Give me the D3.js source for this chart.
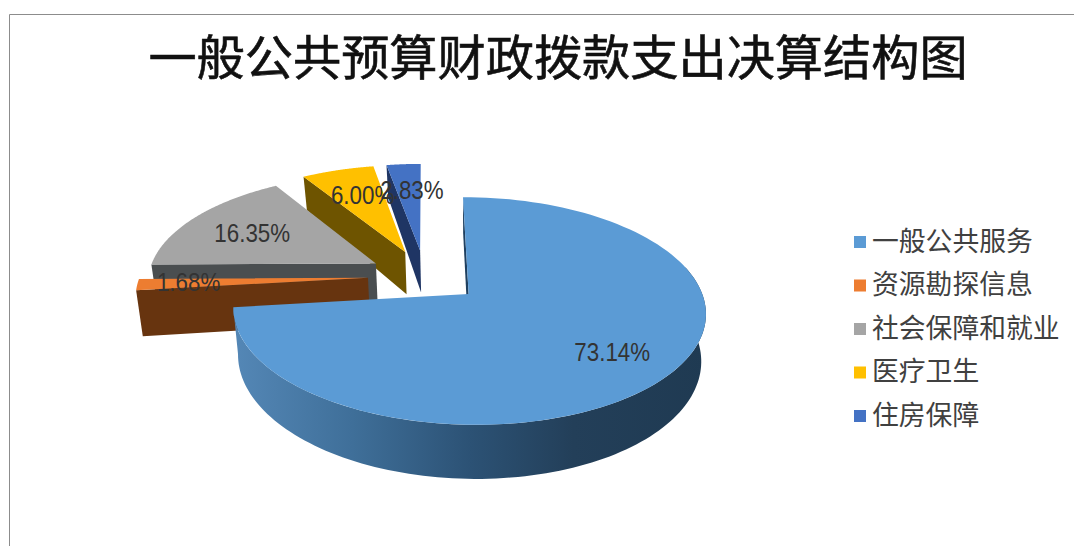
<!DOCTYPE html>
<html>
<head>
<meta charset="utf-8">
<script src="https://cdn.jsdelivr.net/npm/d3@7"></script>
<style>
  html, body { margin: 0; padding: 0; background: #fff; }
  svg { display: block; }
  text { font-family: "Noto Sans CJK SC", sans-serif; }
</style>
</head>
<body>
<svg id="chart" width="1074" height="546"></svg>
<script>
const chartTitle = "一般公共预算财政拨款支出决算结构图";
const categories = ["一般公共服务", "资源勘探信息", "社会保障和就业", "医疗卫生", "住房保障"];
const shares = [73.14, 1.68, 16.35, 6.00, 2.83];
const topColors = ["#5b9bd5", "#ed7d31", "#a5a5a5", "#ffc000", "#4472c4"];
const sideColors = ["#1f4060", "#67340f", "#4a4e50", "#6e5400", "#1f3564"];

const svg = d3.select("#chart");
const defs = svg.append("defs");

// frame of the pasted chart: only top and left survive the crop
svg.append("path")
    .attr("d", "M9.5,546V14.5H1074")
    .attr("fill", "none")
    .attr("stroke", "#8c8c8c")
    .attr("stroke-width", 1);

svg.append("text")
    .attr("x", 558)
    .attr("y", 54)
    .attr("text-anchor", "middle")
    .attr("dominant-baseline", "central")
    .attr("font-size", 48.2)
    .attr("font-weight", 400)
    .attr("stroke", "#111")
    .attr("stroke-width", 0.6)
    .attr("fill", "#111")
    .text(chartTitle);

// pie layout, clockwise from 12 o'clock, in data order
const slices = d3.pie().sort(null).value(d => d)(shares);

// ground plane -> screen, simple perspective
const cx = 425, cy = 276;
const radiusX = 228, radiusY = 106, depth = 0.145;
const explode = 0.25, thickness = 45;
const vanishX = 470, taper = 0.02;

const project = (x, y, drop = 0) => {
    const w = 1 + depth * y;
    const dropW = y > 0 ? w * w : w;
    const sx = cx + radiusX * x / w;
    // the underside is seen a little narrower than the top face
    return [
        sx - (sx - vanishX) * taper * drop / thickness,
        cy - radiusY * y / w + drop / dropW
    ];
};

const mid = d => (d.startAngle + d.endAngle) / 2;

const groundPoint = (d, angle, r) => [
    explode * Math.sin(mid(d)) + r * Math.sin(angle),
    explode * Math.cos(mid(d)) + r * Math.cos(angle)
];

const screenPoint = (d, angle, r, drop = 0) => {
    const g = groundPoint(d, angle, r);
    return project(g[0], g[1], drop);
};

const arcPoints = (d, a0, a1, drop = 0) =>
    d3.range(0, 1.0001, 1 / 120).map(t => screenPoint(d, a0 + (a1 - a0) * t, 1, drop));

const line = d3.line();

const wallGradient = defs.append("linearGradient")
    .attr("id", "wall")
    .attr("gradientUnits", "userSpaceOnUse")
    .attr("x1", 235).attr("x2", 705).attr("y1", 0).attr("y2", 0);
[[0, "#5487b6"], [0.25, "#3f6f99"], [0.5, "#2c5275"], [0.72, "#233f59"], [1, "#1f3a52"]]
    .forEach(s => wallGradient.append("stop").attr("offset", s[0]).attr("stop-color", s[1]));

const pieLayer = svg.append("g");

// back slices first, the big one last
const drawOrder = [4, 3, 2, 1, 0];
drawOrder.forEach(i => {
    const d = slices[i];
    const g = pieLayer.append("g").attr("class", "slice");
    const apex = screenPoint(d, 0, 0);
    const apexLow = screenPoint(d, 0, 0, thickness);
    const a = d.startAngle;

    // the cut face on the starting edge looks at the viewer
    g.append("path")
        .attr("d", line([apex, screenPoint(d, a, 1), screenPoint(d, a, 1, thickness), apexLow]) + "Z")
        .attr("fill", sideColors[i]);

    if (i === 0) {
        // outer wall, only the part that faces the viewer
        const wallA0 = Math.PI * 0.42, wallA1 = d.endAngle;
        const upper = arcPoints(d, wallA0, wallA1);
        const lower = arcPoints(d, wallA0, wallA1, thickness).reverse();
        g.append("path")
            .attr("d", line(upper.concat(lower)) + "Z")
            .attr("fill", "url(#wall)");
    }

    g.append("path")
        .attr("d", line([apex].concat(arcPoints(d, d.startAngle, d.endAngle))) + "Z")
        .attr("fill", topColors[i]);
});

// data labels, squeezed sideways like the narrow font of the original
const fmt = d3.format(".2f");
const labelLayer = svg.append("g");
slices.forEach((d, i) => {
    const p = screenPoint(d, mid(d), 0.71);
    const dx = i === 1 ? -16 : i === 4 ? 4 : 7;
    const dy = i === 1 ? -1 : i === 0 ? 1 : 3;
    labelLayer.append("text")
        .attr("transform", `translate(${p[0] + dx},${p[1] + dy}) scale(0.86,1)`)
        .attr("text-anchor", "middle")
        .attr("dominant-baseline", "central")
        .attr("font-size", 26)
        .attr("fill", "#333")
        .style("font-family", '"Liberation Sans", sans-serif')
        .text(fmt(shares[i]) + "%");
});

// legend
const legendY = d3.scalePoint().domain(categories).range([241, 415]);
const legend = svg.append("g").selectAll("g")
    .data(categories)
    .enter()
    .append("g")
    .attr("transform", d => `translate(854,${legendY(d)})`);
legend.append("rect")
    .attr("x", 0).attr("y", -5).attr("width", 12).attr("height", 12)
    .attr("fill", (d, i) => topColors[i]);
legend.append("text")
    .attr("x", 18)
    .attr("y", -2)
    .attr("dominant-baseline", "central")
    .attr("font-size", 26.8)
    .attr("fill", "#404040")
    .text(d => d);
</script>
</body>
</html>
